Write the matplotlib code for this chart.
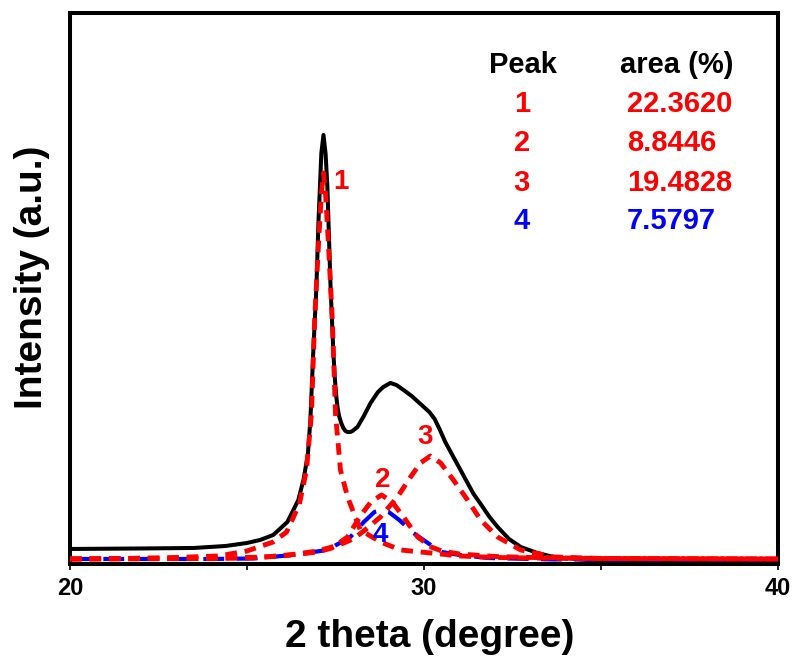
import numpy as np
import matplotlib
matplotlib.use("Agg")
import matplotlib.pyplot as plt

plt.rcParams['font.family'] = ['Liberation Sans', 'DejaVu Sans']
plt.rcParams['font.weight'] = 'bold'

# sum of fit (black solid)
sum_x = [20.0, 22.0, 23.5, 24.4, 25.0, 25.37, 25.74, 26.14, 26.31, 26.45, 26.6, 26.72,
         26.79, 26.87, 26.96, 27.02, 27.10, 27.16, 27.22, 27.27, 27.36, 27.44, 27.48,
         27.52, 27.56, 27.60, 27.66, 27.72, 27.78, 27.84, 27.92, 27.98, 28.12, 28.30,
         28.49, 28.70, 28.85, 29.05, 29.22, 29.42, 29.65, 29.90, 30.15, 30.30, 30.45,
         30.6, 30.83, 31.03, 31.23, 31.40, 31.6, 31.85, 32.08, 32.4, 32.73, 33.2,
         33.66, 34.62, 35.56, 37.0, 38.5, 40.0]
sum_y = [15, 15.5, 16, 18, 21, 24, 29, 42, 54, 64, 85, 110,
         144, 211, 277, 344, 411, 429, 410, 377, 277, 211, 186,
         168, 156, 148, 141, 136, 133, 132, 132, 133, 137, 148,
         161, 172, 177, 181, 179, 174, 168, 160, 152, 145, 134,
         122, 107, 94, 81, 70, 60, 47, 37, 25, 17, 11,
         7, 4, 2, 2, 2, 2]

# peak 1 (red dashed)
p1_x = [20.0, 21.5, 23.0, 24.2, 25.0, 25.74, 26.12, 26.48, 26.68, 26.82, 26.91, 27.02,
        27.10, 27.16, 27.22, 27.30, 27.41, 27.50, 27.64, 27.84, 28.2, 28.77, 29.34,
        30.18, 31.0, 32.0, 34.0, 40.0]
p1_y = [5, 5.5, 6.5, 8, 13, 22, 32, 60, 94, 150, 244, 320,
        370, 391, 370, 320, 244, 150, 94, 67, 34, 22, 14,
        11, 8, 6.5, 5.5, 5]

# peak 2 (red dashed)
p2_x = [20.0, 24.0, 25.5, 26.5, 27.0, 27.4, 27.84, 28.2, 28.5, 28.8, 29.1, 29.4,
        29.82, 30.2, 30.5, 31.0, 32.0, 33.0, 35.0, 40.0]
p2_y = [5, 5.5, 7, 10, 12, 16, 27, 48, 62, 69, 62, 48,
        27, 17, 13, 10, 7.5, 6.5, 5.5, 5]

# peak 3 (red dashed)
p3_x = [20.0, 22.0, 24.0, 25.0, 26.0, 27.0, 27.6, 28.0, 28.3, 28.77, 29.25, 29.62,
        29.9, 30.18, 30.47, 30.83, 31.23, 31.6, 32.08, 32.73, 33.66, 35.0, 40.0]
p3_y = [5, 5.3, 5.7, 6, 8, 13, 19, 25, 33, 47, 67, 87,
        101, 108, 101, 84, 64, 44, 27, 14, 7, 5.5, 5]

# peak 4 (blue dashed)
p4_x = [20.0, 24.0, 25.2, 26.3, 27.27, 27.92, 28.3, 28.6, 28.8, 29.0, 29.3, 29.7,
        30.27, 30.5, 31.0, 31.8, 33.66, 40.0]
p4_y = [5, 5, 5.5, 9, 14, 27, 42, 52, 54, 52, 44, 31,
        17, 12, 9, 6, 4.5, 4.5]

peak_ids = ['1', '2', '3', '4']
peak_areas = ['22.3620', '8.8446', '19.4828', '7.5797']
peak_colors = ['red', 'red', 'red', 'blue']
# where the peak numbers sit on the plot
label_x = [27.64, 28.83, 30.04, 28.77]
label_y = [382, 84, 127, 29]

fig = plt.figure(figsize=(7.93, 6.57), dpi=100)
ax = fig.add_axes([0.0883, 0.1416, 0.8928, 0.8386])

ax.plot(sum_x, sum_y, color='black', lw=2.9, zorder=3)
ax.plot(p4_x, p4_y, color='blue', lw=3.0, dashes=(5, 3), zorder=4)
for px, py in [(p1_x, p1_y), (p2_x, p2_y), (p3_x, p3_y)]:
    ax.plot(px, py, color='red', lw=3.5, dashes=(2.4, 1.6), zorder=5)

for lab, lx, ly, c in zip(peak_ids, label_x, label_y, peak_colors):
    ax.text(lx, ly, lab, color=c, fontsize=20, fontweight='bold', ha='center', va='center', zorder=6)

# table of peak areas
ax.text(0.640, 0.905, 'Peak', transform=ax.transAxes, fontsize=21, fontweight='bold', ha='center', va='center')
ax.text(0.777, 0.905, 'area (%)', transform=ax.transAxes, fontsize=21, fontweight='bold', ha='left', va='center')
row_y = [0.835, 0.764, 0.692, 0.622]
for lab, area, c, ry in zip(peak_ids, peak_areas, peak_colors, row_y):
    ax.text(0.638, ry, lab, transform=ax.transAxes, fontsize=21, fontweight='bold', color=c, ha='center', va='center')
    ax.text(0.787, ry, area, transform=ax.transAxes, fontsize=21, fontweight='bold', color=c, ha='left', va='center')

ax.set_xlim(20, 40)
ax.set_ylim(0, 551)
ax.set_xticks([20, 30, 40])
ax.set_xticks([25, 35], minor=True)
ax.set_yticks([])
ax.tick_params(axis='x', which='both', direction='out', length=4.5, width=1.2, pad=5)
ax.tick_params(axis='x', which='major', labelsize=17)
for lbl in ax.get_xticklabels():
    lbl.set_fontweight('bold')
for sp in ax.spines.values():
    sp.set_linewidth(2.9)

ax.set_xlabel('2 theta (degree)', fontsize=28, fontweight='bold')
ax.set_ylabel('Intensity (a.u.)', fontsize=28, fontweight='bold')
ax.xaxis.set_label_coords(0.508, -0.100)
ax.yaxis.set_label_coords(-0.028, 0.521)

fig.savefig('out.png', dpi=100)
